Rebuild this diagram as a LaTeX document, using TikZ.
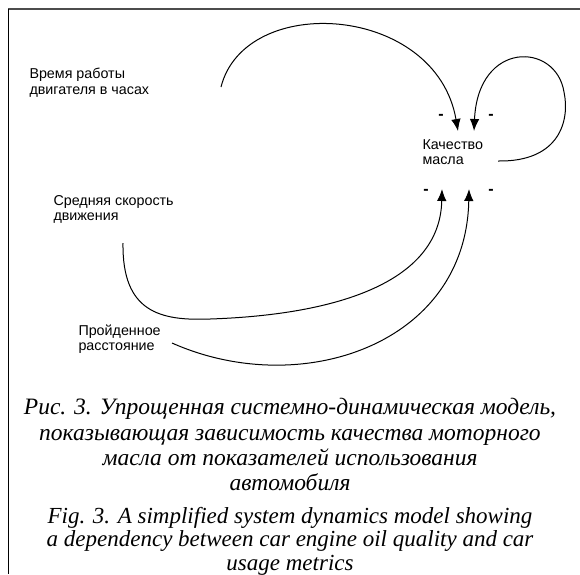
\documentclass[tikz,border=0pt]{standalone}
\usepackage{fontspec}
\setmainfont{Liberation Serif}
\setsansfont{Liberation Sans}
\usetikzlibrary{arrows.meta}

\begin{document}
\begin{tikzpicture}[x=1pt,y=-1pt,>={Latex[length=12pt,width=9.5pt]},inner sep=0pt,line width=1pt,
  lbl/.style={anchor=north west,align=left,font=\sffamily\fontsize{14.3}{15.5}\selectfont},
  sign/.style={font=\sffamily\bfseries\fontsize{16}{16}\selectfont},
  figcap/.style={anchor=north,align=center,font=\itshape\fontsize{23.5}{25.3}\selectfont}]
\useasboundingbox (0,0) rectangle (580,574);
\draw[line width=1.6pt,black!70] (8,9) -- (580,9);
\draw[line width=0.8pt] (8,9) -- (8,574);
%
\node[lbl] (time) at (29,68) {Время работы\\двигателя в часах};
\node[lbl] (oil) at (422,139) {Качество\\масла};
\node[lbl] (speed) at (53,195) {Средняя скорость\\движения};
\node[lbl] (dist) at (78,324) {Пройденное\\расстояние};
%
\node[sign] (m1) at (441,117) {-};
\node[sign] (m2) at (491,117) {-};
\node[sign] (m3) at (426,192) {-};
\node[sign] (m4) at (491,192) {-};
%
\coordinate (t0) at (221,87);
\coordinate (t1) at (458,131);
\coordinate (q0) at (498,161);
\coordinate (q1) at (474,131);
\coordinate (s0) at (123,243);
\coordinate (s1) at (442,189);
\coordinate (d0) at (172,343);
\coordinate (d1) at (469,189);
%
\draw[->] (t0) .. controls (245,-8) and (436,4) .. (t1);
\draw[->] (q0) .. controls (560,162) and (570,120) .. (564,92) .. controls (556,42) and (478,40) .. (q1);
\draw[->] (s0) .. controls (122,312) and (160,321) .. (210,319) .. controls (330,315) and (440,285) .. (s1);
\draw[->] (d0) .. controls (300,400) and (466,345) .. (d1);
%
\node[figcap] (ru) at (290,398) {Рис. 3. Упрощенная системно-динамическая модель,\\показывающая зависимость качества моторного\\масла от показателей использования\\автомобиля};
\node[figcap,font=\itshape\fontsize{23}{23.2}\selectfont] (en) at (290,507) {Fig. 3. A simplified system dynamics model showing\\a dependency between car engine oil quality and car\\usage metrics};
\end{tikzpicture}
\end{document}
